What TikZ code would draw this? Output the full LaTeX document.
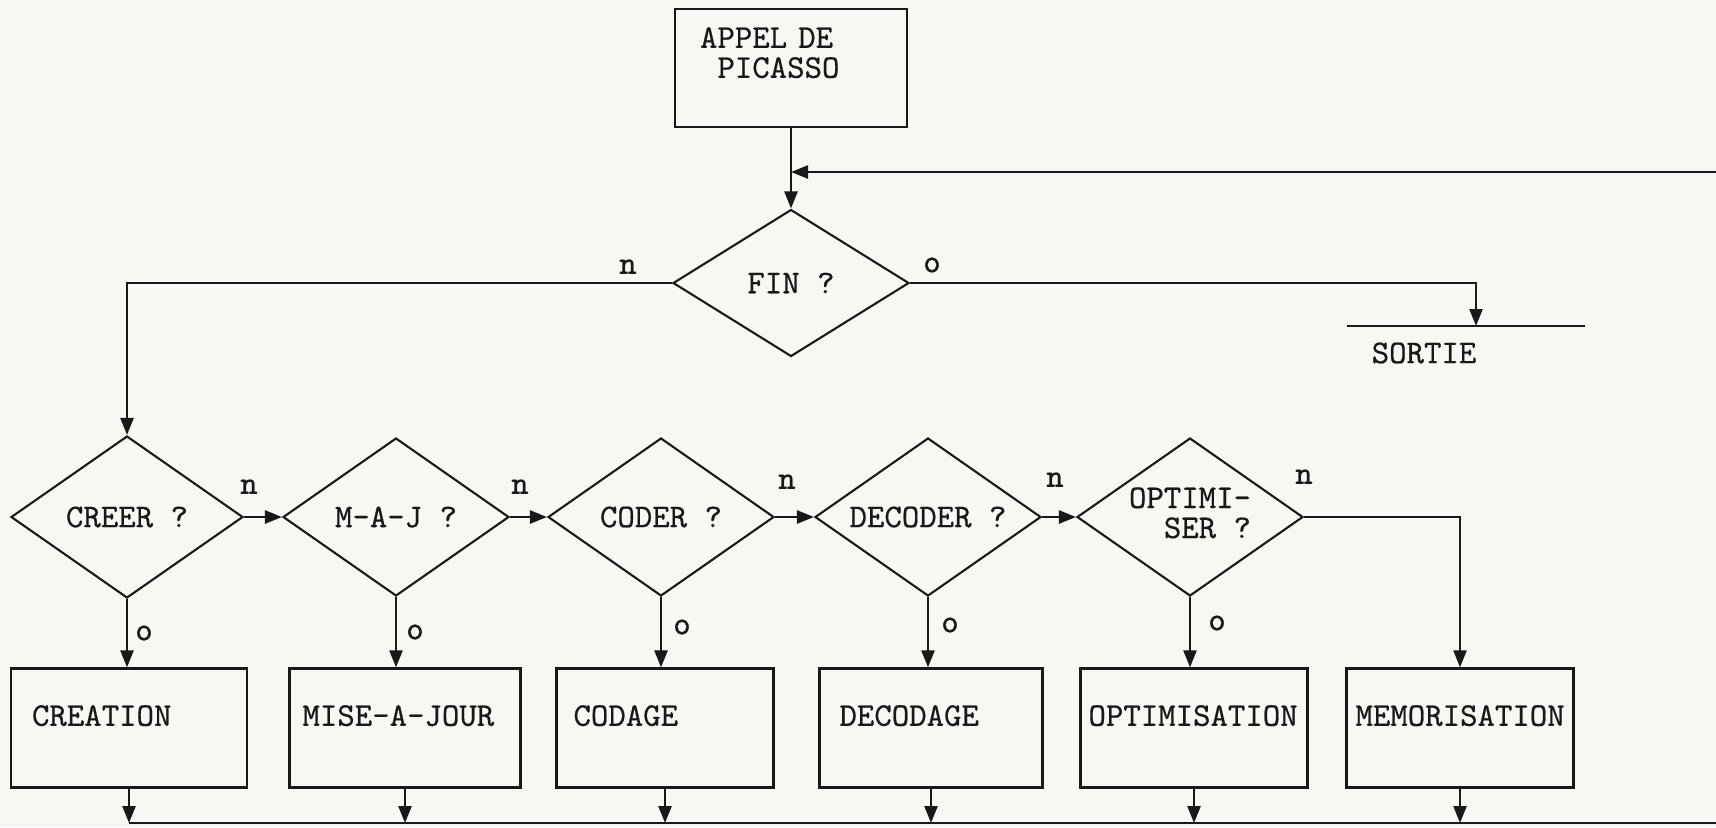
\documentclass[tikz,border=0pt]{standalone}
\usepackage{fontspec}
\newfontfamily\tw{lmmono10-regular.otf}[FakeBold=0.5]
\usetikzlibrary{shapes.geometric,arrows.meta}
\definecolor{paper}{RGB}{248,247,243}
\definecolor{ink}{RGB}{25,25,25}
\begin{document}
\begin{tikzpicture}[x=0.5pt,y=-0.5pt,
  every node/.style={text=ink},
  font=\tw\fontsize{16.6}{15}\selectfont,
  arr/.style={draw=ink,line width=1.25pt,-{Triangle[length=8.5pt,width=6.5pt]}},
  plain/.style={draw=ink,line width=1.25pt},
  dec/.style={draw=ink,shape=diamond,line width=1.05pt,inner sep=0pt,minimum width=113pt,minimum height=79pt},
  proc/.style={draw=ink,line width=1.15pt,minimum height=59.5pt,inner ysep=0pt,align=left,text height=10pt,text depth=12.2pt},
  lab/.style={inner sep=0pt},
  nlab/.style={inner sep=0pt,font=\ttfamily\bfseries\fontsize{16.6}{15}\selectfont},
]
\fill[paper] (0,0) rectangle (1716,827);
\useasboundingbox (0,0) rectangle (1716,827);

% top
\node[draw=ink,line width=1.15pt,minimum height=59pt,inner xsep=12.5pt,inner ysep=0pt,
      text width=91pt,align=left,text height=10pt,text depth=30.2pt] (APPEL) at (791,68)
      {APPEL DE\\\phantom{A}PICASSO};
\node[dec,minimum width=118pt,minimum height=73.5pt] (FIN) at (791,283) {\makebox[0pt]{FIN ?}};

% sortie
\node[lab] (SORTIE) at (1424,353) {SORTIE};
\coordinate (sl) at (1347,326);
\coordinate (sr) at (1585,326);
\coordinate (sx) at (1476,326);
\coordinate (fbR) at (1716,172);

% decisions
\node[dec,minimum width=116pt,minimum height=81pt] (CREER) at (127,517) {\makebox[0pt]{CREER ?}};
\node[dec] (MAJ) at (396,517) {\makebox[0pt]{M-A-J ?}};
\node[dec] (CODER) at (661,517) {\makebox[0pt]{CODER ?}};
\node[dec] (DECODER) at (928,517) {\makebox[0pt]{DECODER ?}};
\node[dec] (OPT) at (1190,517) {\makebox[0pt]{\begin{tabular}{@{}r@{}}OPTIMI-\\SER ?\end{tabular}}};

% processes
\node[proc,inner xsep=10.5pt,text width=97pt] (CREATION) at (129,728) {CREATION};
\node[proc,inner xsep=6.5pt,text width=102.5pt] (MISE) at (405,728) {MISE-A-JOUR};
\node[proc,inner xsep=8.5pt,text width=91.5pt] (CODAGE) at (665,728) {CODAGE};
\node[proc,inner xsep=10pt,text width=91.5pt] (DECODAGE) at (931,728) {DECODAGE};
\node[proc,inner xsep=4pt,text width=105.5pt] (OPTIM) at (1194,728) {OPTIMISATION};
\node[proc,inner xsep=4.5pt,text width=104.5pt] (MEM) at (1460,728) {MEMORISATION};

\coordinate (bly) at (0,823);
\coordinate (br) at (1716,823);

% connectors top
\draw[arr] (APPEL.south) -- (FIN.north);
\draw[arr] (fbR) -- (APPEL.south |- fbR);
\draw[arr] (FIN.west) -| (CREER.north);
\draw[arr] (FIN.east) -| (sx);
\draw[plain] (sl) -- (sr);
\node[nlab] (nF) at (628,267) {n};
\node[lab] (oF) at (932,265) {o};

% chain
\draw[arr] (CREER.east) -- (MAJ.west);
\draw[arr] (MAJ.east) -- (CODER.west);
\draw[arr] (CODER.east) -- (DECODER.west);
\draw[arr] (DECODER.east) -- (OPT.west);
\draw[arr] (OPT.east) -| (MEM.north);
\node[nlab] (n1) at (249,487) {n};
\node[nlab] (n2) at (520,487) {n};
\node[nlab] (n3) at (787,482) {n};
\node[nlab] (n4) at (1055,480) {n};
\node[nlab] (n5) at (1304,477) {n};

% yes branches
\draw[arr] (CREER.south) -- (CREER.south |- CREATION.north);
\draw[arr] (MAJ.south) -- (MAJ.south |- MISE.north);
\draw[arr] (CODER.south) -- (CODER.south |- CODAGE.north);
\draw[arr] (DECODER.south) -- (DECODER.south |- DECODAGE.north);
\draw[arr] (OPT.south) -- (OPT.south |- OPTIM.north);
\node[lab] (o1) at (144,633) {o};
\node[lab] (o2) at (415,632) {o};
\node[lab] (o3) at (682,627) {o};
\node[lab] (o4) at (950,625) {o};
\node[lab] (o5) at (1217,623) {o};

% bottom collector
\draw[plain] (CREATION.south |- bly) -- (br);
\foreach \b in {CREATION,MISE,CODAGE,DECODAGE,OPTIM,MEM}
  \draw[arr] (\b.south) -- (\b.south |- bly);
\end{tikzpicture}
\end{document}
